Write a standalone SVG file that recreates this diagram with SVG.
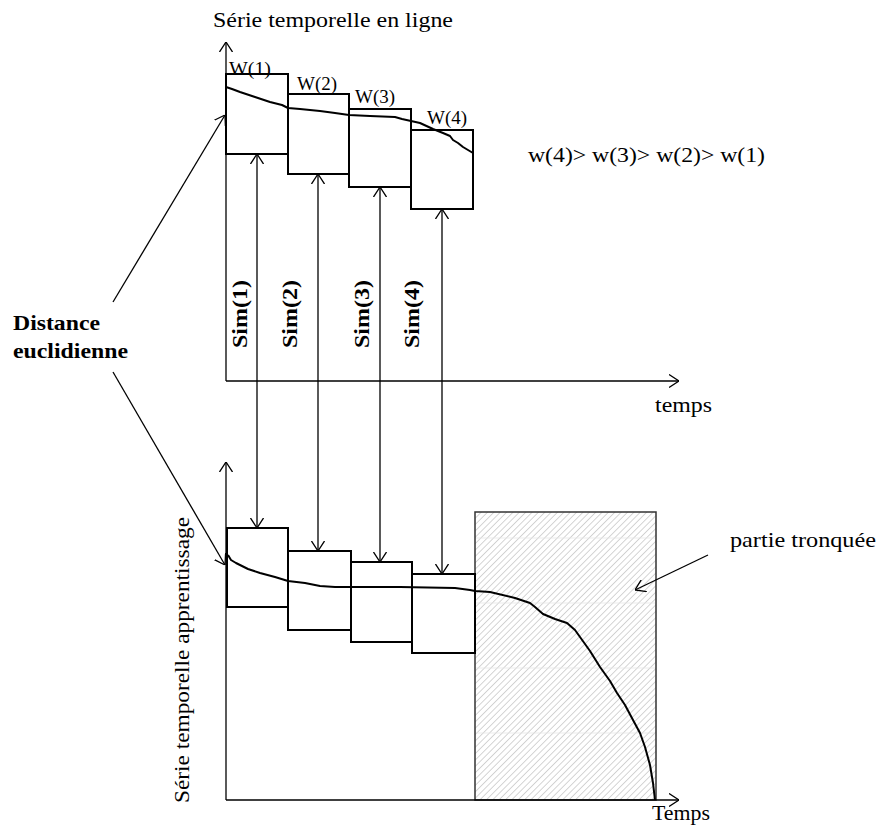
<svg xmlns="http://www.w3.org/2000/svg" width="879" height="826" viewBox="0 0 879 826">
<defs>
<style>
.t{font-family:"Liberation Serif","Times New Roman",serif;fill:#000;font-size:21px}
.b{font-weight:bold}
.w{font-size:18px}
.box{fill:none;stroke:#000;stroke-width:2}
.ax{fill:none;stroke:#000;stroke-width:1.3}
.cur{fill:none;stroke:#000;stroke-width:2;stroke-linejoin:round}
.ln{fill:none;stroke:#000;stroke-width:1.3}
</style>
<marker id="arr" viewBox="0 0 10 14" refX="10" refY="7" markerWidth="10" markerHeight="14" markerUnits="userSpaceOnUse" orient="auto-start-reverse">
<path d="M0,0.5 L10,7 L0,13.5" fill="none" stroke="#000" stroke-width="1.3"/>
</marker>
<pattern id="hatch" patternUnits="userSpaceOnUse" width="4.5" height="4.5" patternTransform="rotate(45)">
<rect width="4.5" height="4.5" fill="#fff"/>
<line x1="0" y1="0" x2="0" y2="4.5" stroke="#b8b8b8" stroke-width="1.2"/>
</pattern>
</defs>
<rect width="879" height="826" fill="#fff"/>

<g id="top-chart">
<text class="t" x="213" y="27" textLength="240" lengthAdjust="spacingAndGlyphs">Série temporelle en ligne</text>
<line class="ax" x1="226" y1="381" x2="226" y2="42" marker-end="url(#arr)"/>
<line class="ax" x1="226" y1="381" x2="679" y2="381" marker-end="url(#arr)"/>
<text class="t" x="655" y="412" textLength="57" lengthAdjust="spacingAndGlyphs">temps</text>
</g>

<g id="w1"><rect class="box" x="226" y="74" width="62" height="80"/><text class="t w" x="229" y="75" textLength="42" lengthAdjust="spacingAndGlyphs">W(1)</text></g>
<g id="w2"><rect class="box" x="288" y="94" width="61" height="80"/><text class="t w" x="297" y="90" textLength="40" lengthAdjust="spacingAndGlyphs">W(2)</text></g>
<g id="w3"><rect class="box" x="349" y="109" width="62" height="78"/><text class="t w" x="355" y="103" textLength="40" lengthAdjust="spacingAndGlyphs">W(3)</text></g>
<g id="w4"><rect class="box" x="411" y="130" width="62" height="79"/><text class="t w" x="427" y="124" textLength="40" lengthAdjust="spacingAndGlyphs">W(4)</text></g>

<g id="top-curve">
<polyline class="cur" points="226,87 232,89 240,92 255,97 270,102 282,105 288,108 300,109 320,111 335,113 349,115 370,116 395,117 402,119 411,121 420,123 433,129 443,133 450,136 453,140 458,143 463,147 468,150 473,153"/>
</g>

<g id="order-label"><text class="t" x="528" y="162" textLength="237" lengthAdjust="spacingAndGlyphs">w(4)&gt; w(3)&gt; w(2)&gt; w(1)</text></g>

<g id="sim-labels">
<text class="t b" transform="translate(247,348) rotate(-90)" textLength="68" lengthAdjust="spacingAndGlyphs">Sim(1)</text>
<text class="t b" transform="translate(297,348) rotate(-90)" textLength="68" lengthAdjust="spacingAndGlyphs">Sim(2)</text>
<text class="t b" transform="translate(369,348) rotate(-90)" textLength="68" lengthAdjust="spacingAndGlyphs">Sim(3)</text>
<text class="t b" transform="translate(419,348) rotate(-90)" textLength="68" lengthAdjust="spacingAndGlyphs">Sim(4)</text>
</g>

<g id="distance-label">
<text class="t b" x="13" y="330" textLength="87" lengthAdjust="spacingAndGlyphs">Distance</text>
<text class="t b" x="13" y="358" textLength="115" lengthAdjust="spacingAndGlyphs">euclidienne</text>
</g>

<g id="bottom-chart">
<rect x="475" y="512" width="181" height="288" fill="url(#hatch)" stroke="#333" stroke-width="1.5"/>
<g stroke="#e6e6e6" stroke-width="0.8">
<line x1="476" y1="538" x2="655" y2="538"/>
<line x1="476" y1="603" x2="655" y2="603"/>
<line x1="476" y1="668" x2="655" y2="668"/>
<line x1="476" y1="733" x2="655" y2="733"/>
</g>
<line class="ax" x1="226" y1="800" x2="226" y2="462" marker-end="url(#arr)"/>
<line class="ax" x1="226" y1="800" x2="679" y2="800" marker-end="url(#arr)"/>
<text class="t" x="652" y="820" textLength="58" lengthAdjust="spacingAndGlyphs">Temps</text>
<text class="t" transform="translate(189,803) rotate(-90)" textLength="286" lengthAdjust="spacingAndGlyphs">Série temporelle apprentissage</text>
<text class="t" x="730" y="547" textLength="146" lengthAdjust="spacingAndGlyphs">partie tronquée</text>
</g>

<g id="b1"><rect class="box" x="227" y="528" width="61" height="79"/></g>
<g id="b2"><rect class="box" x="288" y="551" width="63" height="79"/></g>
<g id="b3"><rect class="box" x="351" y="562" width="61" height="80"/></g>
<g id="b4"><rect class="box" x="412" y="574" width="63" height="79"/></g>

<g id="bottom-curve">
<polyline class="cur" points="228,555 231,560 236,563 248,569 260,573 275,577 288,581 305,583 320,586 335,587 351,587 400,587 455,588 470,590 475,591 490,592 515,598 530,603 535,607 543,614 555,619 567,623 575,630 580,637 590,651 600,667 610,681 617,693 625,705 633,720 640,733 645,747 650,765 653,783 655,800"/>
</g>

<g id="connectors">
<line class="ln" x1="257" y1="154" x2="257" y2="528" marker-start="url(#arr)" marker-end="url(#arr)"/>
<line class="ln" x1="318" y1="174" x2="318" y2="551" marker-start="url(#arr)" marker-end="url(#arr)"/>
<line class="ln" x1="380" y1="187" x2="380" y2="562" marker-start="url(#arr)" marker-end="url(#arr)"/>
<line class="ln" x1="442" y1="209" x2="442" y2="574" marker-start="url(#arr)" marker-end="url(#arr)"/>
<line class="ln" x1="113" y1="302" x2="225" y2="115" marker-end="url(#arr)"/>
<line class="ln" x1="113" y1="372" x2="225" y2="565" marker-end="url(#arr)"/>
<line class="ln" x1="708" y1="555" x2="635" y2="590" marker-end="url(#arr)"/>
</g>
</svg>
